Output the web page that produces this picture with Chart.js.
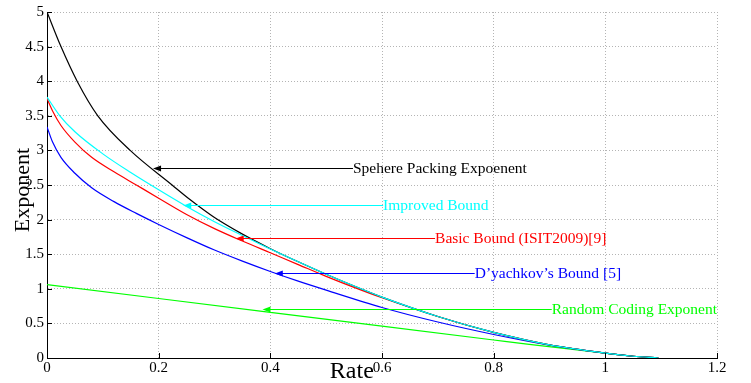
<!DOCTYPE html>
<html>
<head>
<meta charset="utf-8">
<script src="https://cdn.jsdelivr.net/npm/chart.js@4/dist/chart.umd.min.js"></script>
<style>
  body { margin: 0; background: #fff; }
  canvas { display: block; }
</style>
</head>
<body>
<canvas id="exponent-chart" width="751" height="383"></canvas>
<script>
// values
const xTicks = [0, 0.2, 0.4, 0.6, 0.8, 1, 1.2];
const xTickLabels = ["0", "0.2", "0.4", "0.6", "0.8", "1", "1.2"];
const yTicks = [0, 0.5, 1, 1.5, 2, 2.5, 3, 3.5, 4, 4.5, 5];
const yTickLabels = ["0", "0.5", "1", "1.5", "2", "2.5", "3", "3.5", "4", "4.5", "5"];

const spherRate = [0, 0.025, 0.054, 0.091, 0.149, 0.224, 0.256, 0.3, 0.35, 0.4, 0.45, 0.5, 0.55, 0.6, 0.7, 0.8, 0.9, 1.0, 1.05, 1.095];
const spherExp  = [5, 4.5, 4.0, 3.5, 3.0, 2.5, 2.29, 2.03, 1.79, 1.58, 1.39, 1.21, 1.04, 0.88, 0.6, 0.37, 0.19, 0.07, 0.025, 0];

const improvedRate = [0, 0.023, 0.05, 0.1, 0.15, 0.2, 0.25, 0.3, 0.35, 0.4, 0.45, 0.5, 0.55, 0.6, 0.7, 0.8, 0.9, 1.0, 1.05, 1.095];
const improvedExp  = [3.77, 3.5, 3.27, 2.95, 2.68, 2.43, 2.19, 1.97, 1.77, 1.575, 1.39, 1.21, 1.04, 0.88, 0.6, 0.37, 0.19, 0.07, 0.025, 0];

const basicRate = [0, 0.01, 0.025, 0.05, 0.08, 0.12, 0.16, 0.2, 0.25, 0.3, 0.35, 0.4, 0.45, 0.5, 0.55, 0.6, 0.7, 0.8, 0.9, 1.0, 1.05, 1.095];
const basicExp  = [3.75, 3.57, 3.36, 3.12, 2.9, 2.69, 2.5, 2.31, 2.075, 1.87, 1.69, 1.52, 1.35, 1.18, 1.02, 0.87, 0.6, 0.37, 0.19, 0.07, 0.025, 0];

const dyachRate = [0, 0.01, 0.025, 0.05, 0.08, 0.12, 0.16, 0.2, 0.25, 0.3, 0.35, 0.4, 0.45, 0.5, 0.6, 0.7, 0.8, 0.9, 1.0, 1.05, 1.095];
const dyachExp  = [3.34, 3.12, 2.9, 2.67, 2.46, 2.26, 2.09, 1.93, 1.74, 1.56, 1.4, 1.25, 1.11, 0.98, 0.73, 0.52, 0.34, 0.185, 0.07, 0.025, 0];

const randomRate = [0, 0.2, 0.4, 0.6, 0.8, 0.86, 0.93, 1.0, 1.05, 1.095];
const randomExp  = [1.06, 0.86, 0.66, 0.46, 0.26, 0.2, 0.135, 0.07, 0.025, 0];

// arrow annotations (data units)
const annoLabels = ["Spehere Packing Expoenent", "Improved Bound", "Basic Bound (ISIT2009)[9]", "D\u2019yachkov\u2019s Bound [5]", "Random Coding Exponent"];
const annoColors = ["#000000", "#00ffff", "#ff0000", "#0000ff", "#00ff00"];
const annoTipX   = [0.19, 0.244, 0.338, 0.408, 0.386];
const annoTextX  = [0.548, 0.602, 0.695, 0.766, 0.904];
const annoY      = [2.74, 2.215, 1.733, 1.228, 0.715];

const serif = "'Liberation Serif', 'DejaVu Serif', serif";

function pts(xs, ys) {
  return xs.map((x, i) => ({ x: x, y: ys[i] }));
}

function lineSet(label, xs, ys, color) {
  return {
    label: label,
    data: pts(xs, ys),
    borderColor: color,
    borderWidth: 1.2,
    pointRadius: 0,
    cubicInterpolationMode: "monotone",
    fill: false,
  };
}

const extras = {
  id: "extras",
  afterDatasetsDraw(chart) {
    const ctx = chart.ctx;
    const xs = chart.scales.x;
    const ys = chart.scales.y;
    const area = chart.chartArea;
    ctx.save();

    // inward tick marks
    ctx.strokeStyle = "#000";
    ctx.lineWidth = 1;
    ctx.beginPath();
    xTicks.forEach((v) => {
      let px = Math.round(xs.getPixelForValue(v)) + 0.5;
      ctx.moveTo(px, area.bottom);
      ctx.lineTo(px, area.bottom - 5);
    });
    yTicks.forEach((v) => {
      let py = Math.round(ys.getPixelForValue(v)) + 0.5;
      ctx.moveTo(area.left, py);
      ctx.lineTo(area.left + 5, py);
    });
    ctx.stroke();

    // arrows + labels
    ctx.font = "15.5px " + serif;
    ctx.textBaseline = "middle";
    ctx.textAlign = "left";
    annoLabels.forEach((txt, i) => {
      let tipX = xs.getPixelForValue(annoTipX[i]);
      let endX = xs.getPixelForValue(annoTextX[i]);
      let py = Math.round(ys.getPixelForValue(annoY[i])) + 0.5;
      ctx.strokeStyle = annoColors[i];
      ctx.fillStyle = annoColors[i];
      ctx.lineWidth = 1.2;
      ctx.beginPath();
      ctx.moveTo(tipX + 2, py);
      ctx.lineTo(endX, py);
      ctx.stroke();
      ctx.beginPath();
      ctx.moveTo(tipX, py);
      ctx.lineTo(tipX + 8, py - 3);
      ctx.lineTo(tipX + 8, py + 3);
      ctx.closePath();
      ctx.fill();
      ctx.fillText(txt, endX, py);
    });

    // axis titles
    ctx.fillStyle = "#000";
    ctx.textAlign = "center";
    ctx.textBaseline = "alphabetic";
    ctx.font = "24px " + serif;
    ctx.fillText("Rate", xs.getPixelForValue(0.546), 378);
    ctx.font = "22px " + serif;
    ctx.translate(29, (area.top + area.bottom) / 2 + 5);
    ctx.rotate(-Math.PI / 2);
    ctx.fillText("Exponent", 0, 0);
    ctx.restore();
  },
};

new Chart("exponent-chart", {
  type: "line",
  data: {
    datasets: [
      lineSet("Improved Bound", improvedRate, improvedExp, "#00ffff"),
      lineSet("Sphere Packing Exponent", spherRate, spherExp, "#000000"),
      lineSet("Basic Bound (ISIT2009)[9]", basicRate, basicExp, "#ff0000"),
      lineSet("D'yachkov's Bound [5]", dyachRate, dyachExp, "#0000ff"),
      lineSet("Random Coding Exponent", randomRate, randomExp, "#00ff00"),
    ],
  },
  options: {
    responsive: false,
    animation: false,
    devicePixelRatio: 1,
    layout: { padding: { top: 9, right: 34, left: 0, bottom: 0 } },
    plugins: {
      legend: { display: false },
      tooltip: { enabled: false },
    },
    scales: {
      x: {
        type: "linear",
        min: 0,
        max: 1.2,
        afterBuildTicks: (scale) => {
          scale.ticks = xTicks.map((v) => ({ value: v }));
        },
        afterFit: (scale) => {
          scale.height = 25;
        },
        ticks: {
          color: "#000",
          font: { family: serif, size: 15 },
          padding: 1,
          maxRotation: 0,
          callback: (v) => xTickLabels[xTicks.indexOf(v)],
        },
        grid: {
          color: (c) => (c.tick && c.tick.value === 0 ? "rgba(0,0,0,0)" : "#b4b4b4"),
          drawTicks: false,
        },
        border: { display: true, color: "#000", width: 1, dash: [1, 2] },
      },
      y: {
        type: "linear",
        min: 0,
        max: 5,
        afterBuildTicks: (scale) => {
          scale.ticks = yTicks.map((v) => ({ value: v }));
        },
        afterFit: (scale) => {
          scale.width = 47;
        },
        ticks: {
          color: "#000",
          font: { family: serif, size: 15 },
          padding: 3,
          callback: (v) => yTickLabels[yTicks.indexOf(v)],
        },
        grid: {
          color: (c) => (c.tick && c.tick.value === 0 ? "rgba(0,0,0,0)" : "#b4b4b4"),
          drawTicks: false,
        },
        border: { display: true, color: "#000", width: 1, dash: [1, 2] },
      },
    },
  },
  plugins: [extras],
});
</script>
</body>
</html>
